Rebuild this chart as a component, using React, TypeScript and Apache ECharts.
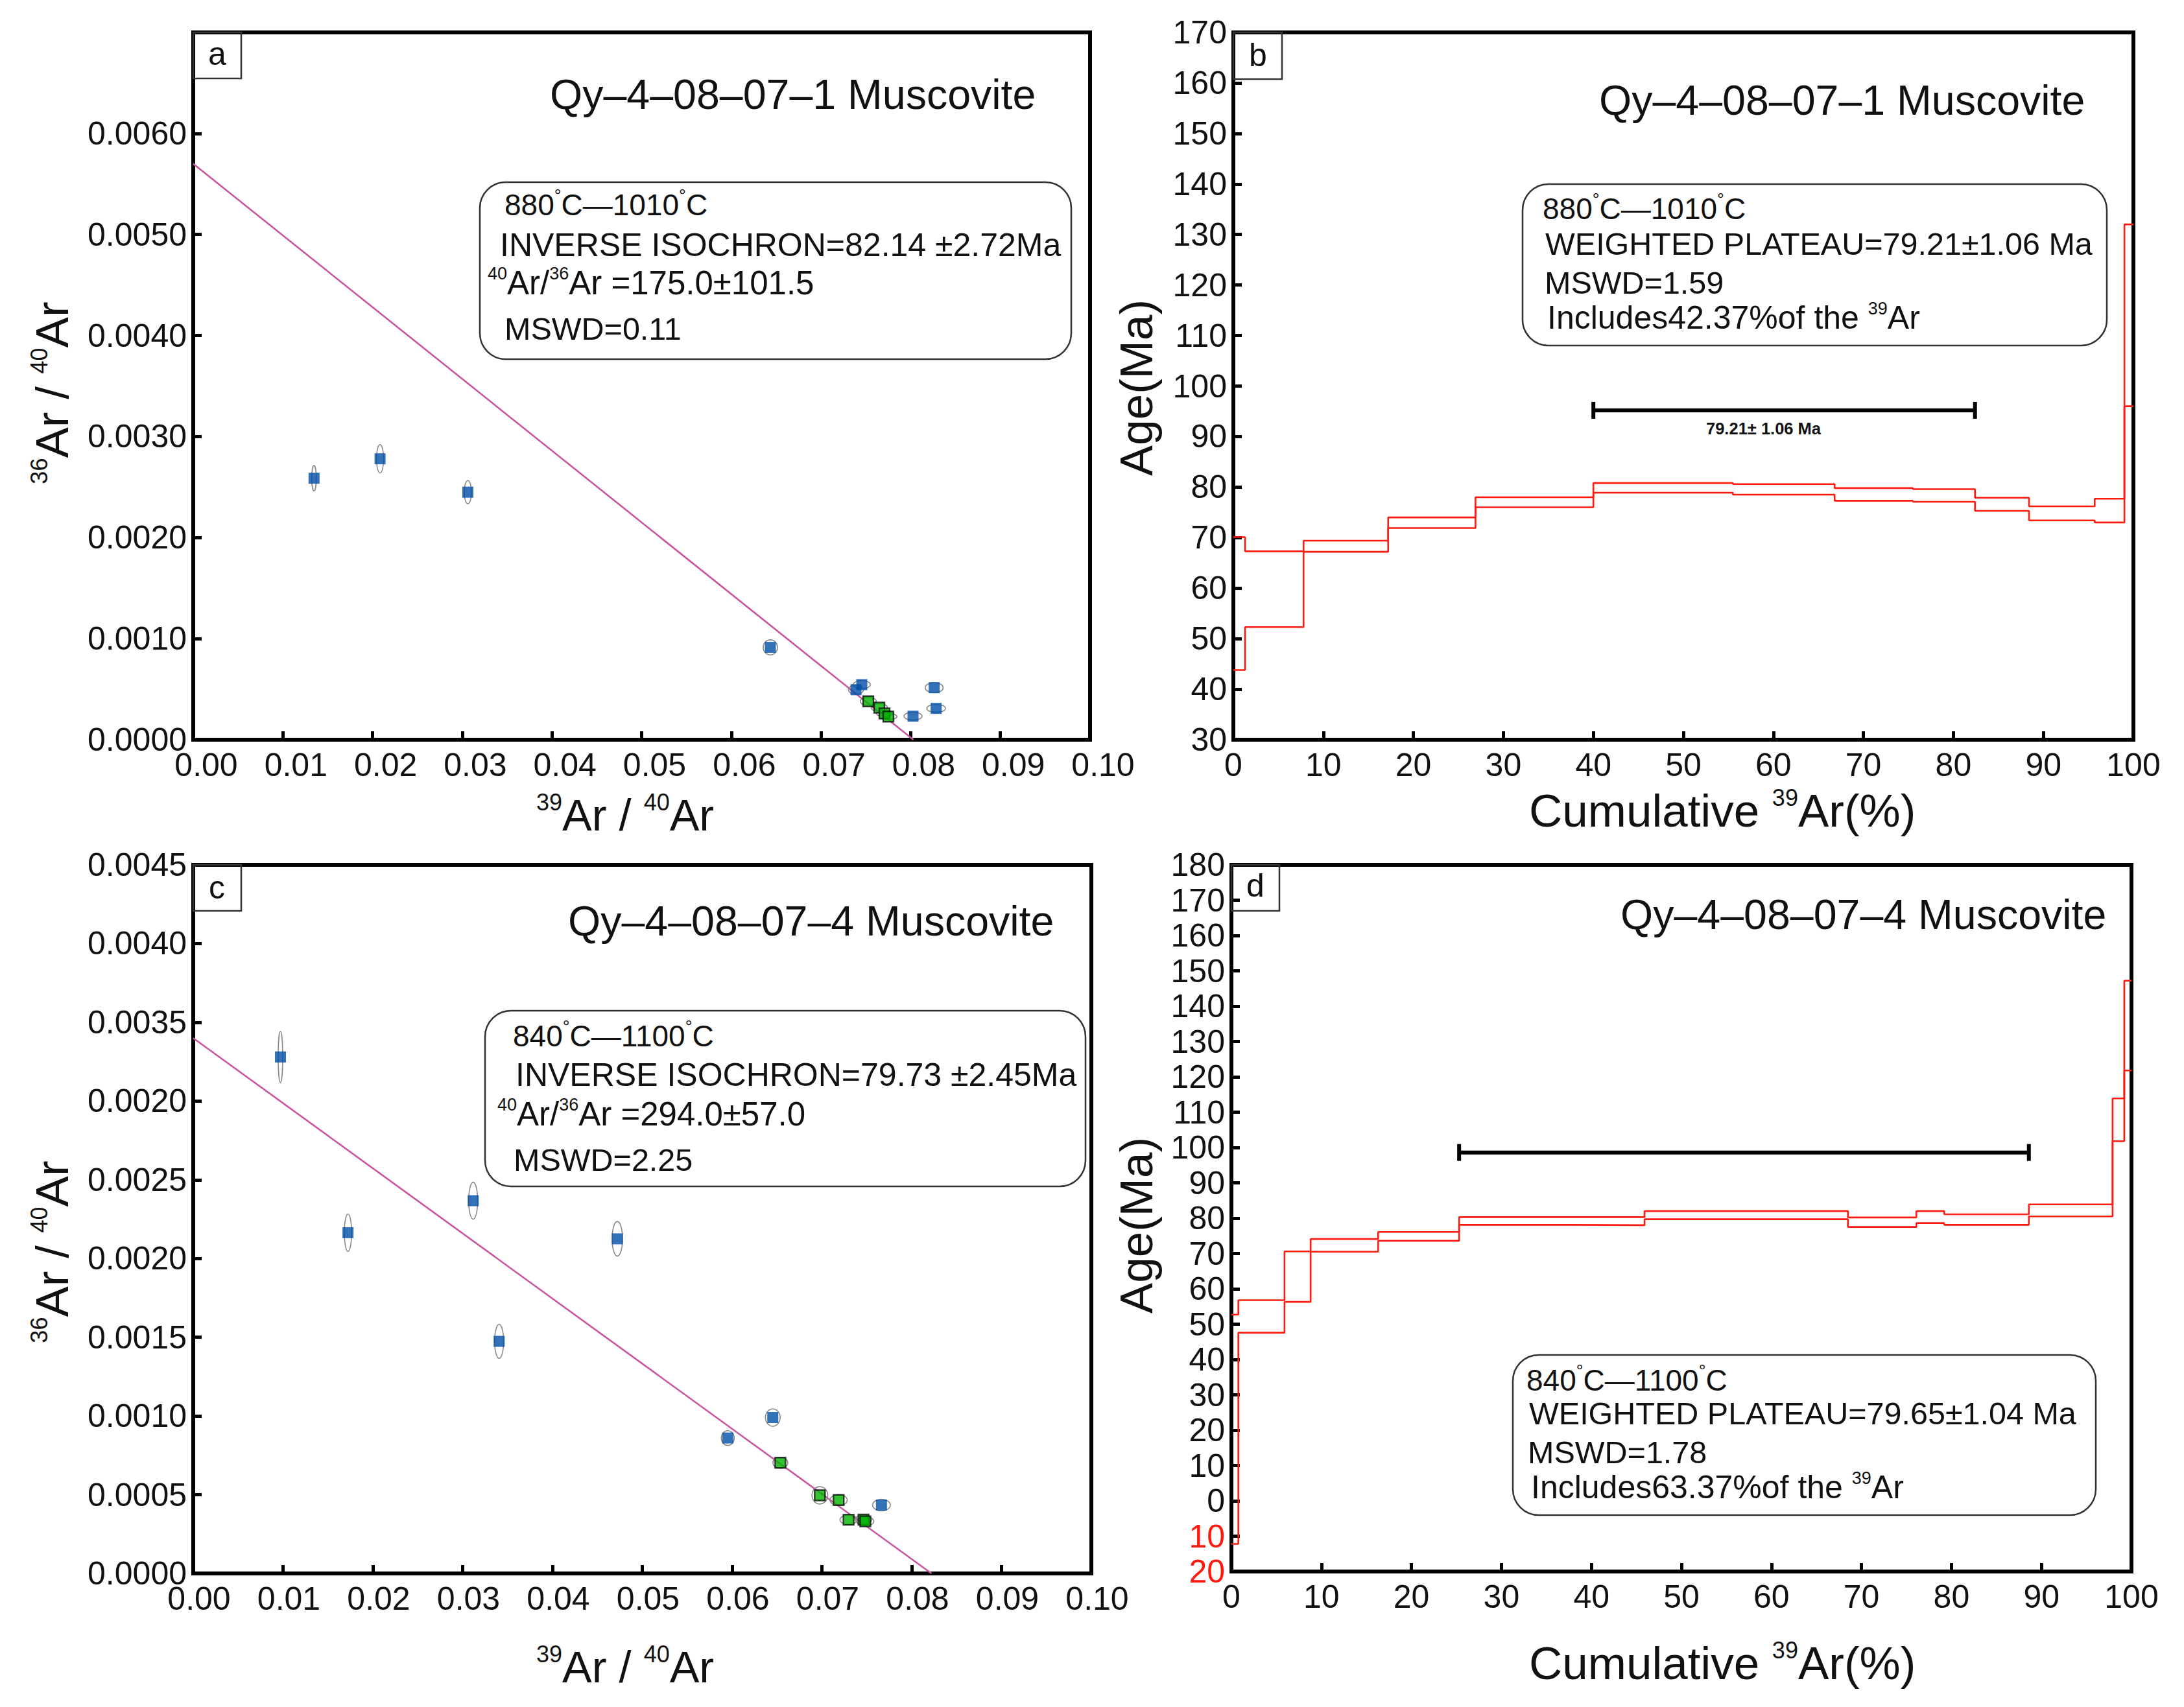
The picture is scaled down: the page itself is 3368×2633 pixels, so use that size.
import * as echarts from 'echarts'
import { useEffect, useRef } from 'react'

const FONT = 'Liberation Sans'

// isochron points: x, y, ellipse half-width, ellipse half-height
const aBluePoints = [
  [0.01347, 0.002588, 0.00025, 0.000125],
  [0.02083, 0.00278, 0.0004, 0.00014],
  [0.03062, 0.00245, 0.0004, 0.000115],
  [0.06435, 0.000914, 0.0008, 0.000075],
  [0.07455, 0.000545, 0.00096, 0.00004],
  [0.0739, 0.000495, 0.00084, 0.000045],
  [0.08026, 0.000233, 0.001, 0.00004],
  [0.08262, 0.000515, 0.001, 0.00005],
  [0.08284, 0.00031, 0.00104, 0.00004],
]
const aGreenPoints = [
  [0.07527, 0.00038, 0.00089, 0.00004],
  [0.0765, 0.000318, 0.0009, 0.00004],
  [0.07708, 0.00026, 0.0009, 0.00003],
  [0.07751, 0.000229, 0.00096, 0.00003],
]
const aLine = [[0, 0.0057], [0.0803, 0]]
const aYTickLabels = ['0.0000', '0.0010', '0.0020', '0.0030', '0.0040', '0.0050', '0.0060', '']

const cBluePoints = [
  [0.00971, 0.00328, 0.00025, 0.000163],
  [0.01723, 0.002164, 0.0004, 0.000119],
  [0.03117, 0.002367, 0.0005, 0.000117],
  [0.03406, 0.001474, 0.0005, 0.000108],
  [0.04722, 0.002125, 0.00058, 0.00011],
  [0.05952, 0.00086, 0.00072, 0.000047],
  [0.06453, 0.00099, 0.00082, 0.000055],
  [0.07663, 0.000434, 0.00099, 0.000037],
]
const cGreenPoints = [
  [0.06537, 0.000703, 0.00083, 0.000035],
  [0.06977, 0.000496, 0.00088, 0.000055],
  [0.07186, 0.000466, 0.00096, 0.000035],
  [0.07297, 0.000341, 0.00095, 0.00003],
  [0.07463, 0.000342, 0.0009, 0.00003],
  [0.07483, 0.000331, 0.00095, 0.00003],
]
const cLine = [[0, 0.0034], [0.0822, 0]]
// the source figure prints 0.0020 where 0.0030 belongs
const cYTickLabels = ['0.0000', '0.0005', '0.0010', '0.0015', '0.0020', '0.0025', '0.0020', '0.0035', '0.0040', '0.0045']

const xTickLabels = ['0.00', '0.01', '0.02', '0.03', '0.04', '0.05', '0.06', '0.07', '0.08', '0.09', '0.10']

// age spectrum steps: cumulative start, cumulative end, age low, age high
const bSteps = [
  [0, 1.3, 43.8, 70.1],
  [1.3, 7.8, 52.3, 67.3],
  [7.8, 17.2, 67.2, 69.4],
  [17.2, 26.9, 71.9, 74],
  [26.9, 40, 76, 78],
  [40, 55.5, 78.9, 80.8],
  [55.5, 66.8, 78.5, 80.6],
  [66.8, 75.5, 77.3, 79.8],
  [75.5, 82.4, 77.1, 79.6],
  [82.4, 88.4, 75.3, 77.9],
  [88.4, 95.7, 73.4, 76.2],
  [95.7, 99, 73, 77.7],
  [99, 100, 96, 132],
]
const bPlateau = [40, 82.4, 95.2]

const dSteps = [
  [0, 0.77, -12.2, 52.7],
  [0.77, 5.9, 47.6, 56.8],
  [5.9, 8.8, 56.3, 70.6],
  [8.8, 16.3, 70.5, 74.1],
  [16.3, 25.3, 73.6, 76.1],
  [25.3, 38, 78.1, 80.3],
  [38, 45.9, 78, 80.3],
  [45.9, 68.5, 79.7, 82],
  [68.5, 76.1, 77.5, 80.2],
  [76.1, 79.2, 78.6, 82],
  [79.2, 88.6, 78.1, 81.1],
  [88.6, 97.9, 80.5, 83.9],
  [97.9, 99.2, 101.8, 113.9],
  [99.2, 100, 121.8, 147.2],
]
const dPlateau = [25.3, 88.6, 98.6]

const grids = [
  { left: 298, top: 50, width: 1383, height: 1091 },
  { left: 1902, top: 50, width: 1388, height: 1091 },
  { left: 298, top: 1334, width: 1385, height: 1093 },
  { left: 1899, top: 1334, width: 1388, height: 1090 },
]

const richStyles = {
  // info box lines, a little different in size as in the figure
  b: { fontFamily: FONT, fontSize: 48.5, fill: '#111', lineHeight: 56 },
  w: { fontFamily: FONT, fontSize: 50, fill: '#111', lineHeight: 56 },
  x: { fontFamily: FONT, fontSize: 51, fill: '#111', lineHeight: 56 },
  d: { fontFamily: FONT, fontSize: 46, fill: '#111', lineHeight: 56 },
  s: { fontFamily: FONT, fontSize: 27, fill: '#111', lineHeight: 56, verticalAlign: 'top' },
  // axis titles
  m: { fontFamily: FONT, fontSize: 68.5, fill: '#111', lineHeight: 76 },
  n: { fontFamily: FONT, fontSize: 71, fill: '#111', lineHeight: 76 },
  t: { fontFamily: FONT, fontSize: 36, fill: '#111', lineHeight: 76, verticalAlign: 'top' },
}

const label = (text: string, x: number, y: number, size = 48, weight = 'normal') => ({
  type: 'text',
  z: 20,
  style: { text, x, y, fontFamily: FONT, fontSize: size, fontWeight: weight, fill: '#111', verticalAlign: 'middle' },
})

const richLabel = (text: string, x: number, y: number) => ({
  type: 'text',
  z: 20,
  style: { text, x, y, rich: richStyles, verticalAlign: 'middle' },
})

const sideLabel = (text: string, x: number, y: number) => ({
  type: 'text',
  z: 20,
  x,
  y,
  rotation: Math.PI / 2,
  style: { text, x: 0, y: 0, rich: richStyles, align: 'center', verticalAlign: 'middle' },
})

const panelBox = (x: number, y: number, w: number, h: number, r = 40) => ({
  type: 'rect',
  z: 15,
  shape: { x, y, width: w, height: h, r },
  style: { fill: 'none', stroke: '#333', lineWidth: 2.5 },
})

const graphicElements = [
  // letter boxes
  panelBox(298, 50, 74, 71, 0),
  panelBox(1902, 50, 75, 72, 0),
  panelBox(298, 1334, 74, 71, 0),
  panelBox(1899, 1334, 74, 71, 0),
  label('a', 321, 83, 50),
  label('b', 1926, 85, 50),
  label('c', 322, 1369, 50),
  label('d', 1922, 1366, 50),
  // sample names
  label('Qy–4–08–07–1 Muscovite', 848, 146, 64.5),
  label('Qy–4–08–07–1 Muscovite', 2466, 155, 64.5),
  label('Qy–4–08–07–4 Muscovite', 876, 1421, 64.5),
  label('Qy–4–08–07–4 Muscovite', 2499, 1411, 64.5),
  // info boxes
  panelBox(740, 281, 912, 273),
  richLabel('{d|880}{s|°}{d|C—1010}{s|°}{d|C}', 778, 316),
  richLabel('{w|INVERSE ISOCHRON=82.14 ±2.72Ma}', 771, 378),
  richLabel('{s|40}{x|Ar/}{s|36}{x|Ar =175.0±101.5}', 752, 436),
  richLabel('{b|MSWD=0.11}', 778, 507),
  panelBox(2348, 284, 901, 249),
  richLabel('{d|880}{s|°}{d|C—1010}{s|°}{d|C}', 2379, 322),
  richLabel('{b|WEIGHTED PLATEAU=79.21±1.06 Ma}', 2383, 376),
  richLabel('{b|MSWD=1.59}', 2382, 436),
  richLabel('{w|Includes42.37%of the }{s|39}{w|Ar}', 2386, 490),
  panelBox(748, 1559, 926, 271),
  richLabel('{d|840}{s|°}{d|C—1100}{s|°}{d|C}', 791, 1598),
  richLabel('{w|INVERSE ISOCHRON=79.73 ±2.45Ma}', 795, 1658),
  richLabel('{s|40}{x|Ar/}{s|36}{x|Ar =294.0±57.0}', 767, 1718),
  richLabel('{b|MSWD=2.25}', 792, 1789),
  panelBox(2333, 2090, 899, 247),
  richLabel('{d|840}{s|°}{d|C—1100}{s|°}{d|C}', 2354, 2129),
  richLabel('{b|WEIGHTED PLATEAU=79.65±1.04 Ma}', 2358, 2180),
  richLabel('{b|MSWD=1.78}', 2356, 2240),
  richLabel('{w|Includes63.37%of the }{s|39}{w|Ar}', 2361, 2294),
  // plateau caption
  label('79.21± 1.06 Ma', 2631, 661, 25.5, 'bold'),
  // axis titles
  richLabel('{t|39}{m|Ar / }{t|40}{m|Ar}', 827, 1257),
  richLabel('{t|39}{m|Ar / }{t|40}{m|Ar}', 827, 2571),
  richLabel('{n|Cumulative }{t|39}{n|Ar(%)}', 2358, 1250),
  richLabel('{n|Cumulative }{t|39}{n|Ar(%)}', 2358, 2565),
  // rotated so that it reads bottom to top
  sideLabel('{t|36}{n|Ar / }{t|40}{n|Ar}', 80, 606),
  sideLabel('{t|36}{n|Ar / }{t|40}{n|Ar}', 80, 1931),
  sideLabel('{n|Age(Ma)}', 1752, 598),
  sideLabel('{n|Age(Ma)}', 1752, 1890),
]

const renderEllipse = (_params: any, api: any) => {
  const c = api.coord([api.value(0), api.value(1)])
  const s = api.size([api.value(2), api.value(3)])
  return {
    type: 'ellipse',
    shape: { cx: c[0], cy: c[1], rx: s[0], ry: s[1] },
    style: { fill: 'none', stroke: '#8a8a8a', lineWidth: 1.6 },
  }
}

const renderPlateau = (_params: any, api: any) => {
  const p0 = api.coord([api.value(0), api.value(2)])
  const p1 = api.coord([api.value(1), api.value(2)])
  const style = { stroke: '#000', lineWidth: 6 }
  const cap = 13
  return {
    type: 'group',
    children: [
      { type: 'line', shape: { x1: p0[0], y1: p0[1], x2: p1[0], y2: p1[1] }, style },
      { type: 'line', shape: { x1: p0[0], y1: p0[1] - cap, x2: p0[0], y2: p0[1] + cap }, style },
      { type: 'line', shape: { x1: p1[0], y1: p1[1] - cap, x2: p1[0], y2: p1[1] + cap }, style },
    ],
  }
}

const isochronSeries = (index: number, blue: number[][], green: number[][], line: number[][]) => {
  const axes = { xAxisIndex: index, yAxisIndex: index }
  const ellipses = (data: number[][]) => ({
    type: 'custom',
    ...axes,
    renderItem: renderEllipse,
    encode: { x: 0, y: 1 },
    data,
    z: 3,
  })
  return [
    {
      type: 'line',
      ...axes,
      data: line,
      symbol: 'none',
      lineStyle: { color: '#c9559f', width: 2.6 },
      z: 2,
    },
    ellipses(blue),
    ellipses(green),
    {
      type: 'scatter',
      ...axes,
      data: blue.map(p => [p[0], p[1]]),
      symbol: 'rect',
      symbolSize: 17,
      itemStyle: { color: '#004ea8' },
      z: 4,
    },
    {
      type: 'scatter',
      ...axes,
      data: green.map(p => [p[0], p[1]]),
      symbol: 'rect',
      symbolSize: 16,
      itemStyle: { color: '#00b400', borderColor: '#111', borderWidth: 2.4 },
      z: 5,
    },
  ]
}

const spectrumSeries = (index: number, steps: number[][], plateau: number[]) => {
  const axes = { xAxisIndex: index, yAxisIndex: index }
  const envelope = (col: number) => ({
    type: 'line',
    ...axes,
    data: steps.flatMap(s => [[s[0], s[col]], [s[1], s[col]]]),
    symbol: 'none',
    lineStyle: { color: '#ff1a10', width: 2.6 },
    z: 6,
  })
  return [
    envelope(3),
    envelope(2),
    {
      type: 'custom',
      ...axes,
      renderItem: renderPlateau,
      encode: { x: [0, 1], y: 2 },
      data: [plateau],
      z: 7,
    },
  ]
}

const axisBase = {
  axisLine: { show: true, onZero: false, lineStyle: { color: '#000', width: 6 } },
  axisTick: { show: true, inside: true, length: 13, lineStyle: { color: '#000', width: 5 } },
  splitLine: { show: false },
}

const labelBase = { fontFamily: FONT, fontSize: 50, color: '#111', hideOverlap: false }

const xAxis = (gridIndex: number, max: number, interval: number, shift: number, labels?: string[]) => ({
  type: 'value',
  gridIndex,
  min: 0,
  max,
  interval,
  ...axisBase,
  axisLabel: {
    ...labelBase,
    margin: 14,
    padding: [0, 0, 0, shift],
    formatter: labels ? (v: number) => labels[Math.round(v / interval)] : undefined,
  },
})

const yAxis = (gridIndex: number, min: number, max: number, interval: number, lift: number, labels?: string[]) => ({
  type: 'value',
  gridIndex,
  min,
  max,
  interval,
  ...axisBase,
  axisLabel: {
    ...labelBase,
    margin: 10,
    padding: [0, 0, lift, 0],
    formatter: labels ? (v: number) => labels[Math.round(v / interval)] : undefined,
  },
})

export default function App() {
  const chartRef = useRef<HTMLDivElement>(null)

  useEffect(() => {
    if (!chartRef.current) return
    const chart = echarts.init(chartRef.current, undefined, { renderer: 'svg' })

    const dY: any = yAxis(3, -20, 180, 10, 0)
    dY.axisLabel.formatter = (v: number) => String(Math.abs(v))
    dY.axisLabel.color = (v: any) => (Number(v) < 0 ? '#ff1a10' : '#111')

    const option: any = {
      animation: false,
      backgroundColor: '#fff',
      grid: grids.map(g => ({ ...g, show: true, borderColor: '#000', borderWidth: 6, backgroundColor: 'transparent' })),
      xAxis: [
        xAxis(0, 0.1, 0.01, 40, xTickLabels),
        xAxis(1, 100, 10, 0),
        xAxis(2, 0.1, 0.01, 18, xTickLabels),
        xAxis(3, 100, 10, 0),
      ],
      yAxis: [
        yAxis(0, 0, 0.007, 0.001, 14, aYTickLabels),
        yAxis(1, 30, 170, 10, 14),
        yAxis(2, 0, 0.0045, 0.0005, 0, cYTickLabels),
        dY,
      ],
      series: [
        ...isochronSeries(0, aBluePoints, aGreenPoints, aLine),
        ...spectrumSeries(1, bSteps, bPlateau),
        ...isochronSeries(2, cBluePoints, cGreenPoints, cLine),
        ...spectrumSeries(3, dSteps, dPlateau),
      ],
      graphic: { elements: graphicElements },
    }

    chart.setOption(option)

    return () => {
      chart.dispose()
    }
  }, [])

  return (
    <div
      ref={chartRef}
      style={{
        position: 'absolute',
        left: 0,
        top: 0,
        width: '3368px',
        height: '2633px',
      }}
    />
  )
}
